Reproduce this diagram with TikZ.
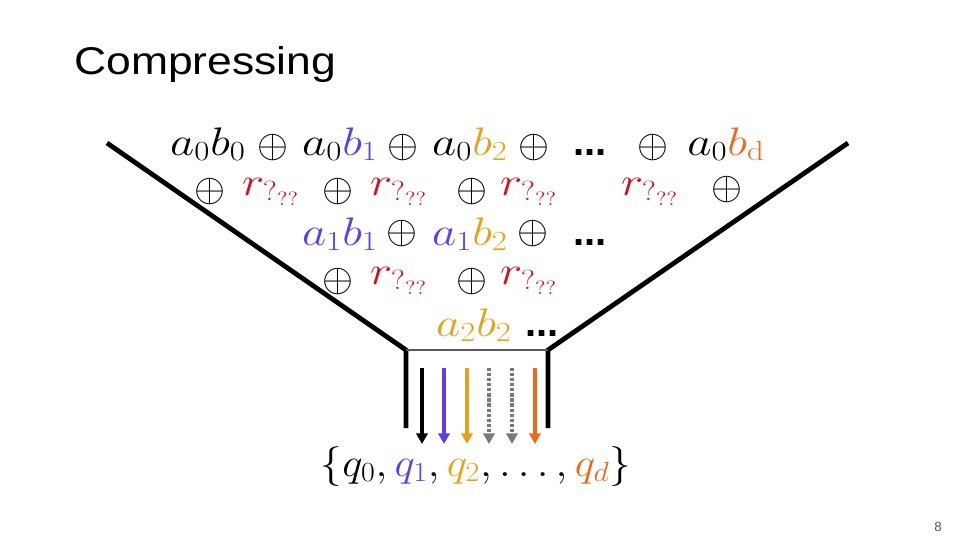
\documentclass[tikz,border=0pt]{standalone}
\usepackage{amsmath}
\usepackage{graphicx}
\usepackage[no-math]{fontspec}
\newfontfamily\arialfont[FakeStretch=1.15]{Liberation Sans}
\newfontfamily\dotfont{Liberation Sans}
\usetikzlibrary{arrows.meta}
\DeclareMathSizes{24.88}{24.88}{17.28}{12}
\definecolor{cblue}{HTML}{5B3FE8}
\definecolor{cgold}{HTML}{E6A21A}
\definecolor{corange}{HTML}{F0691A}
\definecolor{cred}{HTML}{D0121C}
\definecolor{cgray}{HTML}{7A7A7A}
\definecolor{cnum}{HTML}{5A4A9A}
\newcommand{\wmath}[1]{\scalebox{1.42}[1.2]{$#1$}}
\newcommand{\wplus}{\scalebox{1.2}{$\oplus$}}
\tikzset{
  term/.style ={inner sep=0pt, anchor=base, font=\Huge},
  op/.style   ={inner sep=0pt, font=\Huge},
  dots/.style ={inner sep=0pt, anchor=base, font=\dotfont\bfseries\fontsize{30}{34}\selectfont},
  rr/.style   ={term, text=cred},
  fun/.style  ={line width=3.6pt, draw=black},
  ar/.style   ={-{Triangle[length=8pt,width=8.5pt]}, line width=2.8pt},
  ard/.style  ={ar, draw=cgray, fill=cgray, dash pattern=on 2.4pt off 1.4pt},
}

\begin{document}
\begin{tikzpicture}[x=0.75pt, y=-0.75pt]
\useasboundingbox (0,0) rectangle (960,540);
\node[anchor=west, inner sep=0pt, font=\arialfont\fontsize{29}{34}\selectfont] (title) at (74,64) {Compressing};
% row 1
\node[term] (t00) at (208,155) {\wmath{a_0b_0}};
\node[op]   (p1)  at (273,148) {\wplus};
\node[term] (t01) at (340,155) {\wmath{a_0\textcolor{cblue}{b_1}}};
\node[op]   (p2)  at (403,148) {\wplus};
\node[term] (t02) at (470,155) {\wmath{a_0\textcolor{cgold}{b_2}}};
\node[op]   (p3)  at (534,148) {\wplus};
\node[dots] (d1)  at (590,155) {...};
\node[op]   (p4)  at (653,148) {\wplus};
\node[term] (t0d) at (726,155) {\wmath{a_0\textcolor{corange}{b_{\mathrm{d}}}}};
% row 2
\node[op]   (p5)  at (210,192) {\wplus};
\node[rr]   (r1)  at (271,195) {\wmath{r_{?_{??}}}};
\node[op]   (p6)  at (338,192) {\wplus};
\node[rr]   (r2)  at (399,195) {\wmath{r_{?_{??}}}};
\node[op]   (p7)  at (472,192) {\wplus};
\node[rr]   (r3)  at (529,195) {\wmath{r_{?_{??}}}};
\node[rr]   (r4)  at (650,195) {\wmath{r_{?_{??}}}};
\node[op]   (p8)  at (727,190) {\wplus};
% row 3
\node[term] (t11) at (340,245) {\wmath{\textcolor{cblue}{a_1b_1}}};
\node[op]   (p9)  at (402,234) {\wplus};
\node[term] (t12) at (470,245) {\wmath{\textcolor{cblue}{a_1}\textcolor{cgold}{b_2}}};
\node[op]   (p10) at (533,234) {\wplus};
\node[dots] (d2)  at (590,245) {...};
% row 4
\node[op]   (p11) at (338,282) {\wplus};
\node[rr]   (r5)  at (399,284) {\wmath{r_{?_{??}}}};
\node[op]   (p12) at (472,282) {\wplus};
\node[rr]   (r6)  at (529,284) {\wmath{r_{?_{??}}}};
% row 5
\node[term] (t22) at (474,336) {\wmath{\textcolor{cgold}{a_2b_2}}};
\node[dots] (d3)  at (542,336) {...};
% funnel
\coordinate (ltop)  at (107,143);
\coordinate (lbot)  at (406,350);
\coordinate (lfoot) at (406,428);
\coordinate (rtop)  at (848,143);
\coordinate (rbot)  at (548,350);
\coordinate (rfoot) at (548,428);
\draw[fun] (ltop) -- (lbot) -- (lfoot);
\draw[fun] (rtop) -- (rbot) -- (rfoot);
\draw[line width=2.2pt, draw=black!65] (lbot) -- (rbot);
% outputs
\node[term] (qs) at (476,476) {\scalebox{1.3}[1.2]{$\{q_0, \textcolor{cblue}{q_1}, \textcolor{cgold}{q_2}, \ldots, \textcolor{corange}{q_d}\}$}};
\coordinate (s1) at (422,368); \coordinate (e1) at (422,444);
\coordinate (s2) at (444,368); \coordinate (e2) at (444,444);
\coordinate (s3) at (467,368); \coordinate (e3) at (467,444);
\coordinate (s4) at (489,368); \coordinate (e4) at (489,444);
\coordinate (s5) at (512,368); \coordinate (e5) at (512,444);
\coordinate (s6) at (535,368); \coordinate (e6) at (535,444);
\draw[ar, draw=black, fill=black] (s1) -- (e1);
\draw[ar, draw=cblue, fill=cblue] (s2) -- (e2);
\draw[ar, draw=cgold, fill=cgold] (s3) -- (e3);
\draw[ard] (s4) -- (e4);
\draw[ard] (s5) -- (e5);
\draw[ar, draw=corange, fill=corange] (s6) -- (e6);
\node[font=\dotfont\fontsize{10}{12}\selectfont, text=cnum, inner sep=0pt] (pg) at (938,527) {8};
\end{tikzpicture}
\end{document}
